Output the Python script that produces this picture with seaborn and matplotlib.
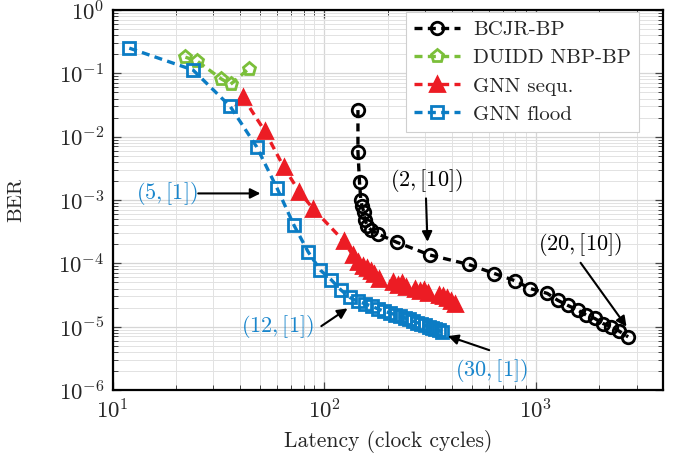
import matplotlib
matplotlib.use("Agg")
import matplotlib.pyplot as plt
import seaborn as sns
import numpy as np
import pandas as pd

# ---------------- data ----------------
bcjr_x = [144.5, 144.5, 147, 149, 151, 154, 156, 160, 167, 180, 221, 317, 482, 638,
          800, 942, 1135, 1273, 1421, 1585, 1734, 1900, 2080, 2278, 2468, 2735]
bcjr_y = [2.63e-2, 5.8e-3, 1.9e-3, 1.0e-3, 8.1e-4, 6.5e-4, 4.8e-4, 3.9e-4, 3.35e-4, 2.9e-4,
          2.14e-4, 1.35e-4, 9.6e-5, 6.9e-5, 5.3e-5, 4.0e-5, 3.35e-5, 2.6e-5, 2.16e-5, 1.82e-5,
          1.52e-5, 1.35e-5, 1.12e-5, 1.0e-5, 8.6e-6, 6.9e-6]

duidd_x = [22.1, 25.2, 32.6, 36.1, 44.0]
duidd_y = [0.18, 0.155, 0.082, 0.067, 0.118]

seq_x = [41.2, 52.4, 64.5, 76.3, 89, 124, 136.5, 144, 152, 159, 166, 173, 181, 211, 223,
         233, 243, 268, 283, 296, 309, 349, 363, 380, 398, 415]
seq_y = [4.26e-2, 1.23e-2, 3.3e-3, 1.35e-3, 7.2e-4, 2.24e-4, 1.35e-4, 1.05e-4, 9.2e-5,
         8.4e-5, 7.7e-5, 6.8e-5, 5.6e-5, 5.1e-5, 4.5e-5, 4.9e-5, 4.3e-5, 4.0e-5, 3.6e-5,
         3.8e-5, 3.4e-5, 3.2e-5, 3.1e-5, 2.8e-5, 2.5e-5, 2.3e-5]

flood_x = [12, 24, 36, 48, 60, 72, 84, 96, 108, 120, 132, 144, 156, 168, 180, 192, 204,
           216, 228, 240, 252, 264, 276, 288, 300, 312, 324, 336, 348, 360]
flood_y = [0.25, 0.113, 0.030, 6.9e-3, 1.52e-3, 4.0e-4, 1.52e-4, 7.8e-5, 5.5e-5, 3.8e-5,
           2.9e-5, 2.5e-5, 2.3e-5, 2.1e-5, 1.9e-5, 1.75e-5, 1.65e-5, 1.55e-5, 1.45e-5,
           1.38e-5, 1.3e-5, 1.22e-5, 1.15e-5, 1.1e-5, 1.05e-5, 1.0e-5, 9.6e-6, 9.1e-6,
           8.7e-6, 8.3e-6]

labels = ["BCJR-BP", "DUIDD NBP-BP", "GNN sequ.", "GNN flood"]

# annotation texts and anchor points (data coordinates)
ann_text = [r"$(5,[1])$", r"$(12,[1])$", r"$(30,[1])$", r"$(2,[10])$", r"$(20,[10])$"]
ann_text_xy = [(18.1, 1.27e-3), (60, 9.9e-6), (615, 2.06e-6), (303, 2.06e-3), (1614, 2.01e-4)]
ann_start = [(25.4, 1.27e-3), (97, 1.02e-5), (603, 4.26e-6), (303, 1.06e-3), (1630, 1.02e-4)]
ann_tip = [(50, 1.27e-3), (129, 1.94e-5), (385, 7.1e-6), (308, 2.19e-4), (2687, 1.0e-5)]

# ---------------- style ----------------
sns.set_theme(style="white")
plt.rcParams["mathtext.fontset"] = "cm"
plt.rcParams["font.family"] = ["cmr10", "DejaVu Serif"]
plt.rcParams["axes.formatter.use_mathtext"] = True

BLACK = "#000000"
GREEN = "#7bbf3a"
RED = "#ec1c24"
BLUE = "#0b7cc4"
TXTBLUE = "#1a86cc"
ann_color = [TXTBLUE, TXTBLUE, TXTBLUE, "black", "black"]

fig = plt.figure(figsize=(6.78, 4.65), dpi=100)
ax = fig.add_axes([0.166, 0.1613, 0.812, 0.8172])

dash = (2.4, 1.6)
common = dict(estimator=None, sort=False, linewidth=2.4, ax=ax, dashes=dash,
              markeredgewidth=2.0)

sns.lineplot(x=bcjr_x, y=bcjr_y, color=BLACK, marker="o", markersize=9,
             markerfacecolor="none", markeredgecolor=BLACK, label=labels[0], **common)
sns.lineplot(x=duidd_x, y=duidd_y, color=GREEN, marker="p", markersize=9.5,
             markerfacecolor="none", markeredgecolor=GREEN, label=labels[1], **common)
sns.lineplot(x=seq_x, y=seq_y, color=RED, marker="^", markersize=9.5,
             markerfacecolor=RED, markeredgecolor=RED, label=labels[2], **common)
sns.lineplot(x=flood_x, y=flood_y, color=BLUE, marker="s", markersize=9,
             markerfacecolor="none", markeredgecolor=BLUE, label=labels[3], **common)

ax.set_xscale("log")
ax.set_yscale("log")
ax.set_xlim(10, 4000)
ax.set_ylim(1e-6, 1)

ax.grid(True, which="major", color="#d6d6d6", linewidth=0.9)
ax.grid(True, which="minor", color="#e2e2e2", linewidth=0.7)
ax.set_axisbelow(True)

ax.tick_params(which="both", direction="in", top=True, right=True, bottom=True, left=True,
               color="#444444")
ax.tick_params(which="major", length=6, width=0.9, labelsize=16.5, pad=6)
ax.tick_params(which="minor", length=3.5, width=0.7)
ax.yaxis.set_major_locator(matplotlib.ticker.LogLocator(base=10, numticks=10))
ax.yaxis.set_minor_locator(matplotlib.ticker.LogLocator(base=10, subs=np.arange(2, 10), numticks=20))
ax.yaxis.set_minor_formatter(matplotlib.ticker.NullFormatter())
ax.xaxis.set_minor_formatter(matplotlib.ticker.NullFormatter())

for s in ax.spines.values():
    s.set_color("black")
    s.set_linewidth(1.6)

ax.set_xlabel("Latency (clock cycles)", fontsize=15.5)
ax.set_ylabel("BER", fontsize=15)
ax.xaxis.set_label_coords(0.5, -0.105)
ax.yaxis.set_label_coords(-0.158, 0.5)

leg = ax.legend(loc="upper right", bbox_to_anchor=(0.957, 0.995), fontsize=15, frameon=True,
                fancybox=False, framealpha=1, edgecolor="#cfcfcf", handlelength=2.2,
                borderpad=0.42, labelspacing=0.46, handletextpad=0.6, borderaxespad=0.0)
leg.get_frame().set_linewidth(0.8)

# ---------------- annotations ----------------
arrow = dict(arrowstyle="-|>", color="black", lw=1.5, mutation_scale=15, shrinkA=0, shrinkB=0)
for txt, txy, st, tp, col in zip(ann_text, ann_text_xy, ann_start, ann_tip, ann_color):
    ax.text(txy[0], txy[1], txt, color=col, fontsize=16, ha="center", va="center")
    ax.annotate("", xy=tp, xytext=st, arrowprops=arrow)

fig.savefig("out.png", dpi=100)
